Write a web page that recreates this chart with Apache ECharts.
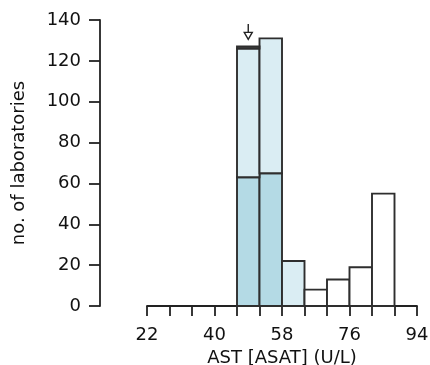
<!DOCTYPE html>
<html>
<head>
<meta charset="utf-8">
<script src="https://cdn.jsdelivr.net/npm/echarts@6/dist/echarts.min.js"></script>
<style>
  html, body { margin: 0; padding: 0; background: #fff; }
  #chart { width: 430px; height: 365px; }
</style>
</head>
<body>
<div id="chart"></div>
<script>
// Histogram bins (U/L): each bin runs from binStart[i] to binStart[i] + binWidth
const binStart = [46, 52, 58, 64, 70, 76, 82];
const binWidth = 6;

// Stacked counts per bin, bottom to top
const innerCounts = [63, 65, 0, 0, 0, 0, 0];   // dark blue core
const middleCounts = [63, 66, 22, 0, 0, 0, 0]; // light blue
const topCounts = [1, 0, 0, 0, 0, 0, 0];       // dark grey cap
const outerCounts = [0, 0, 0, 8, 13, 19, 55];  // open (white)

// Target value marker
const markerX = 49;
const markerTop = 138;
const markerTip = 130.5;

// Axis ticks / labels
const xMin = 22, xMax = 94, xStep = 6, xLabelStep = 18;
const yMin = 0, yMax = 140, yStep = 20;

const layerColors = ['#b4dae5', '#daedf3', '#555555', '#ffffff'];
const layers = [innerCounts, middleCounts, topCounts, outerCounts];

// Build rectangle records [x0, x1, base, top] for every layer
const running = binStart.map(() => 0);
const layerRects = layers.map(counts => counts.map((c, i) => {
  const base = running[i];
  running[i] += c;
  return [binStart[i], binStart[i] + binWidth, base, base + c];
}).filter(r => r[3] > r[2]));

function rectRenderer(color) {
  return function (params, api) {
    const p0 = api.coord([api.value(0), api.value(3)]);
    const p1 = api.coord([api.value(1), api.value(2)]);
    return {
      type: 'rect',
      shape: { x: p0[0], y: p0[1], width: p1[0] - p0[0], height: p1[1] - p0[1] },
      style: { fill: color, stroke: '#2e2e2e', lineWidth: 1.9 }
    };
  };
}

const series = layerRects.map((rects, k) => ({
  type: 'custom',
  renderItem: rectRenderer(layerColors[k]),
  data: rects,
  encode: { x: [0, 1], y: [2, 3] },
  silent: true
}));

// Downward arrow above the first bin
series.push({
  type: 'custom',
  silent: true,
  data: [[markerX, markerTop, markerTip]],
  encode: { x: 0, y: [1, 2] },
  renderItem: function (params, api) {
    const top = api.coord([api.value(0), api.value(1)]);
    const tip = api.coord([api.value(0), api.value(2)]);
    const headH = 7, headW = 4;
    return {
      type: 'group',
      children: [
        { type: 'line', shape: { x1: top[0], y1: top[1], x2: top[0], y2: tip[1] - headH },
          style: { stroke: '#222', lineWidth: 1.4 } },
        { type: 'polygon', shape: { points: [
            [top[0] - headW, tip[1] - headH], [top[0] + headW, tip[1] - headH], [top[0], tip[1]]
          ] }, style: { fill: '#fff', stroke: '#222', lineWidth: 1.4 } }
      ]
    };
  }
});

const font = 'DejaVu Sans';
const ink = '#111';
const chart = echarts.init(document.getElementById('chart'), null, { renderer: 'canvas' });
chart.setOption({
  animation: false,
  backgroundColor: '#fff',
  grid: { left: 147, right: 13, top: 20, bottom: 59, containLabel: false, outerBoundsMode: 'none' },
  xAxis: {
    type: 'value', min: xMin, max: xMax, interval: xStep,
    name: 'AST [ASAT] (U/L)', nameLocation: 'middle', nameGap: 37,
    nameTextStyle: { fontFamily: font, fontSize: 18, color: ink },
    axisLine: { show: true, lineStyle: { color: '#222', width: 1.8 } },
    axisTick: { show: true, length: 10, lineStyle: { color: '#222', width: 1.8 } },
    axisLabel: {
      margin: 20, fontFamily: font, fontSize: 18, color: ink,
      formatter: v => ((v - xMin) % xLabelStep === 0 ? String(v) : '')
    },
    splitLine: { show: false }
  },
  yAxis: {
    type: 'value', min: yMin, max: yMax, interval: yStep, offset: 47,
    name: 'no. of laboratories', nameLocation: 'middle', nameGap: 72,
    nameTextStyle: { fontFamily: font, fontSize: 18, color: ink },
    axisLine: { show: true, lineStyle: { color: '#222', width: 1.8 } },
    axisTick: { show: true, length: 11, lineStyle: { color: '#222', width: 1.8 } },
    axisLabel: { margin: 19, fontFamily: font, fontSize: 18, color: ink },
    splitLine: { show: false }
  },
  series: series
});
</script>
</body>
</html>
